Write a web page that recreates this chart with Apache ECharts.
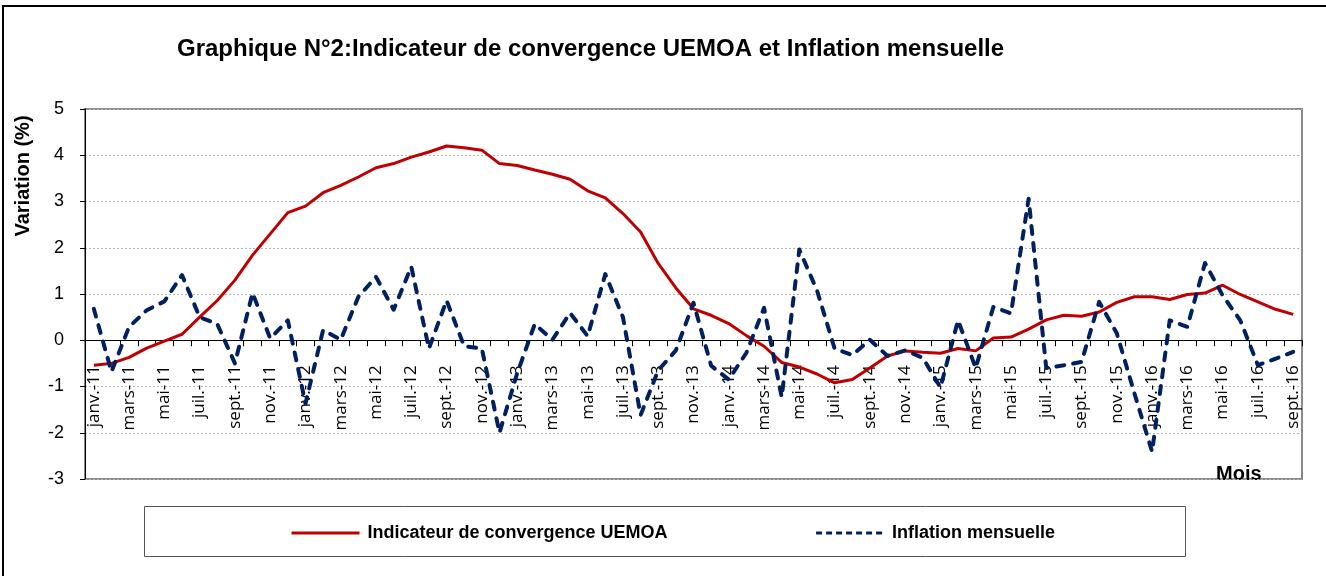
<!DOCTYPE html>
<html>
<head>
<meta charset="utf-8">
<script src="https://cdn.jsdelivr.net/npm/echarts@6/dist/echarts.min.js"></script>
<style>
html,body{margin:0;padding:0;background:#fff;}
#chart{width:1326px;height:576px;}
</style>
</head>
<body>
<div id="chart"></div>
<script>
var months = ['janv.', 'févr.', 'mars', 'avr.', 'mai', 'juin', 'juil.', 'août', 'sept.', 'oct.', 'nov.', 'déc.'];
var years = ['11', '12', '13', '14', '15', '16'];
var categories = [];
years.forEach(function (y) {
  months.forEach(function (m) { categories.push(m + '-' + y); });
});
categories = categories.slice(0, 69); // janv.-11 ... sept.-16

var convergenceUEMOA = [-0.54, -0.50, -0.37, -0.17, -0.02, 0.13, 0.50, 0.86, 1.30, 1.84, 2.30, 2.76,
  2.90, 3.19, 3.35, 3.53, 3.73, 3.82, 3.96, 4.07, 4.20, 4.16, 4.11, 3.82,
  3.78, 3.68, 3.59, 3.48, 3.23, 3.08, 2.74, 2.34, 1.66, 1.13, 0.68, 0.54,
  0.36, 0.10, -0.13, -0.48, -0.58, -0.73, -0.92, -0.85, -0.60, -0.34, -0.23, -0.26,
  -0.28, -0.18, -0.23, 0.05, 0.07, 0.24, 0.44, 0.54, 0.52, 0.61, 0.82, 0.94,
  0.94, 0.88, 0.99, 1.02, 1.19, 0.99, 0.83, 0.67, 0.56];

var inflationMensuelle = [0.68, -0.68, 0.29, 0.65, 0.84, 1.41, 0.50, 0.35, -0.50, 1.02, 0.04, 0.43,
  -1.37, 0.22, 0.01, 0.94, 1.37, 0.66, 1.59, -0.18, 0.86, -0.13, -0.18, -2.00,
  -0.72, 0.35, 0.01, 0.59, 0.09, 1.43, 0.50, -1.62, -0.65, -0.22, 0.81, -0.55,
  -0.85, -0.27, 0.70, -1.23, 1.96, 1.08, -0.18, -0.32, 0.01, -0.34, -0.22, -0.38,
  -1.02, 0.43, -0.60, 0.72, 0.58, 3.06, -0.60, -0.54, -0.47, 0.83, 0.15, -1.15,
  -2.41, 0.43, 0.29, 1.67, 0.97, 0.43, -0.54, -0.40, -0.25];

var yTicks = { min: -3, max: 5, interval: 1 };

var GRID_TOP = 109, GRID_BOTTOM = 97, H = 576;
var plotH = H - GRID_TOP - GRID_BOTTOM;
// shift the category axis up so it sits on the zero line (labels follow it)
var zeroOffset = -plotH * (0 - yTicks.min) / (yTicks.max - yTicks.min);

var chart = echarts.init(document.getElementById('chart'), null, { renderer: 'canvas' });
var FONT = '"Liberation Sans", Arial, sans-serif';

chart.setOption({
  backgroundColor: '#ffffff',
  animation: false,
  title: {
    text: 'Graphique N°2:Indicateur de convergence UEMOA et Inflation mensuelle',
    left: 177,
    top: 37,
    padding: 0,
    textStyle: { fontFamily: FONT, fontWeight: 'bold', fontSize: 24, color: '#000' }
  },
  legend: {
    left: 290,
    top: 524,
    itemWidth: 68,
    itemHeight: 14,
    itemGap: 147,
    padding: 0,
    itemStyle: { color: 'rgba(0,0,0,0)', borderWidth: 0, opacity: 0 },
    textStyle: { fontFamily: FONT, fontWeight: 'bold', fontSize: 18, color: '#000', padding: [0, 0, 0, 3] },
    data: [
      { name: 'Indicateur de convergence UEMOA', lineStyle: { width: 3, type: 'solid' } },
      { name: 'Inflation mensuelle', lineStyle: { width: 3, type: [6, 4], cap: 'butt' } }
    ]
  },
  grid: {
    left: 85, right: 24, top: GRID_TOP, bottom: GRID_BOTTOM,
    show: true, borderColor: '#8a8a8a', borderWidth: 2,
    containLabel: false,
    outerBoundsMode: 'none'
  },
  graphic: [
    {
      type: 'rect', z: -10, silent: true,
      shape: { x: 3, y: 6, width: 1345, height: 600 },
      style: { fill: 'none', stroke: '#000', lineWidth: 2 }
    },
    {
      type: 'rect', z: -5, silent: true,
      shape: { x: 144.5, y: 506.5, width: 1041, height: 50 },
      style: { fill: '#fff', stroke: '#555', lineWidth: 1 }
    },
    {
      type: 'text', silent: true,
      x: 23, y: 176, rotation: Math.PI / 2,
      style: {
        text: 'Variation (%)', fill: '#000',
        font: 'bold 20px ' + FONT,
        align: 'center', verticalAlign: 'middle'
      }
    },
    {
      type: 'text', silent: true,
      x: 1216, y: 474,
      style: {
        text: 'Mois', fill: '#000',
        font: 'bold 20px ' + FONT,
        align: 'left', verticalAlign: 'middle'
      }
    }
  ],
  xAxis: {
    type: 'category',
    data: categories,
    boundaryGap: true,
    position: 'bottom',
    offset: zeroOffset,
    axisLine: { show: true, onZero: false, lineStyle: { color: '#000', width: 1 } },
    axisTick: { show: true, interval: 0, length: 6, inside: false, lineStyle: { color: '#000' } },
    axisLabel: {
      interval: 1, rotate: 90, margin: 25,
      fontFamily: '"Open Sans", "Noto Sans", sans-serif', fontSize: 17, color: '#000'
    },
    splitLine: { show: false }
  },
  yAxis: {
    type: 'value',
    min: yTicks.min, max: yTicks.max, interval: yTicks.interval,
    axisLine: { show: true, lineStyle: { color: '#000', width: 1 } },
    axisTick: { show: true, length: 5, inside: false, lineStyle: { color: '#000' } },
    axisLabel: { margin: 21, fontFamily: FONT, fontSize: 18, color: '#000' },
    splitLine: { show: true, lineStyle: { color: '#b4b4b4', type: [2, 2], width: 1 } }
  },
  series: [
    {
      name: 'Indicateur de convergence UEMOA',
      type: 'line',
      data: convergenceUEMOA,
      symbol: 'none',
      smooth: false,
      color: '#C00000',
      lineStyle: { color: '#C00000', width: 3 },
      z: 3
    },
    {
      name: 'Inflation mensuelle',
      type: 'line',
      data: inflationMensuelle,
      symbol: 'none',
      smooth: false,
      color: '#002060',
      lineStyle: { color: '#002060', width: 4, type: [8, 9], cap: 'round', join: 'round' },
      z: 4
    }
  ]
});
</script>
</body>
</html>
